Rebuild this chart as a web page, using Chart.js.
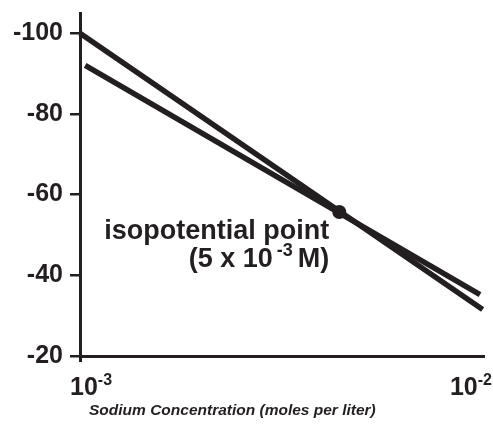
<!DOCTYPE html>
<html>
<head>
<meta charset="utf-8">
<script src="https://cdn.jsdelivr.net/npm/chart.js@4.4.1/dist/chart.umd.min.js"></script>
<style>
  html, body { margin: 0; padding: 0; background: #fff; }
  #wrap { width: 493px; height: 425px; }
</style>
</head>
<body>
<div id="wrap"><canvas id="sodiumChart" width="493" height="425"></canvas></div>
<script>
// values (membrane potential in mV vs Na concentration)
const steepConc = [0.001, 0.00998];
const steepMv = [-100, -31.5];
const shallowConc = [0.00103, 0.00983];
const shallowMv = [-92, -35.2];
const isoConc = [0.0044];
const isoMv = [-55.7];
const yTicks = [-100, -80, -60, -40, -20];
const xTickValues = [0.001, 0.01];
const xTickExponents = ['-3', '-2'];
const isoText = 'isopotential point';
const isoValueText = ['(5 x 10', '-3', 'M)'];
const xTitle = 'Sodium Concentration (moles per liter)';

const INK = '#231f20';
const FONT = '"Liberation Sans", Arial, Helvetica, sans-serif';

function toPoints(xs, ys) {
    return xs.map((x, i) => ({ x: x, y: ys[i] }));
}

// draws "base" with a raised exponent, returns total width
function drawPower(ctx, base, exp, x, y, size, supSize, align) {
    ctx.font = 'bold ' + size + 'px ' + FONT;
    const wBase = ctx.measureText(base).width;
    ctx.font = 'bold ' + supSize + 'px ' + FONT;
    const wExp = ctx.measureText(exp).width;
    const total = wBase + wExp;
    let left = x;
    if (align === 'right') left = x - total;
    ctx.textAlign = 'left';
    ctx.font = 'bold ' + size + 'px ' + FONT;
    ctx.fillText(base, left, y);
    ctx.font = 'bold ' + supSize + 'px ' + FONT;
    ctx.fillText(exp, left + wBase, y - size * 0.42);
    return total;
}

const textPlugin = {
    id: 'textPlugin',
    afterDraw(chart) {
        const ctx = chart.ctx;
        const xs = chart.scales.x;
        ctx.save();
        ctx.fillStyle = INK;
        ctx.textBaseline = 'alphabetic';

        // x tick labels 10^-3 and 10^-2
        xTickValues.forEach((v, i) => {
            const px = xs.getPixelForValue(v);
            if (i === 0) {
                drawPower(ctx, '10', xTickExponents[i], px - 10, 395, 25, 16, 'left');
            } else {
                drawPower(ctx, '10', xTickExponents[i], px + 9, 395, 25, 16, 'right');
            }
        });

        // axis title
        ctx.font = 'italic bold 15.5px ' + FONT;
        ctx.textAlign = 'left';
        ctx.fillText(xTitle, chart.chartArea.left + 9, 415);

        // isopotential annotation, anchored to the point
        const meta = chart.getDatasetMeta(2);
        const pt = meta.data[0];
        const right = pt.x - 10;
        ctx.font = 'bold 27px ' + FONT;
        ctx.textAlign = 'right';
        ctx.fillText(isoText, right, pt.y + 27);

        // second line: (5 x 10^-3 M)
        const supSize = 18;
        ctx.font = 'bold 27px ' + FONT;
        const wTail = ctx.measureText(isoValueText[2]).width;
        const wHead = ctx.measureText(isoValueText[0]).width;
        ctx.font = 'bold ' + supSize + 'px ' + FONT;
        const wSup = ctx.measureText(isoValueText[1]).width;
        const y2 = pt.y + 55;
        const gapA = 4, gapB = 5;
        const x0 = right - wTail - gapB - wSup - gapA - wHead;
        ctx.textAlign = 'left';
        ctx.font = 'bold 27px ' + FONT;
        ctx.fillText(isoValueText[0], x0, y2);
        ctx.font = 'bold ' + supSize + 'px ' + FONT;
        ctx.fillText(isoValueText[1], x0 + wHead + gapA, y2 - 11);
        ctx.font = 'bold 27px ' + FONT;
        ctx.fillText(isoValueText[2], right - wTail, y2);
        ctx.restore();
    }
};

const chart = new Chart(document.getElementById('sodiumChart'), {
    type: 'line',
    data: {
        datasets: [
            {
                data: toPoints(steepConc, steepMv),
                borderColor: INK,
                borderWidth: 5.5,
                pointRadius: 0
            },
            {
                data: toPoints(shallowConc, shallowMv),
                borderColor: INK,
                borderWidth: 5.5,
                pointRadius: 0
            },
            {
                data: toPoints(isoConc, isoMv),
                showLine: false,
                pointRadius: 7,
                pointBackgroundColor: INK,
                pointBorderColor: INK,
                pointBorderWidth: 0
            }
        ]
    },
    options: {
        responsive: false,
        animation: false,
        clip: false,
        layout: { padding: { top: 13, right: 10, left: 0, bottom: 0 } },
        plugins: {
            legend: { display: false },
            tooltip: { enabled: false }
        },
        scales: {
            x: {
                type: 'logarithmic',
                min: 0.001,
                max: 0.01,
                afterBuildTicks: (scale) => {
                    scale.ticks = xTickValues.map(v => ({ value: v }));
                },
                afterFit: (scale) => {
                    scale.height = 69;
                    scale.paddingLeft = 0;
                    scale.paddingRight = 0;
                },
                ticks: { display: false },
                grid: {
                    drawOnChartArea: false,
                    drawTicks: true,
                    tickLength: 6,
                    lineWidth: 3,
                    color: (c) => (c.index === 0 ? INK : 'rgba(0,0,0,0)')
                },
                border: { display: true, color: INK, width: 3 }
            },
            y: {
                type: 'linear',
                reverse: true,
                min: -105,
                max: -20,
                afterBuildTicks: (scale) => {
                    scale.ticks = yTicks.map(v => ({ value: v }));
                },
                afterFit: (scale) => {
                    scale.width = 80;
                    // labels sit inside the canvas anyway, no extra end padding
                    scale.paddingTop = 0;
                    scale.paddingBottom = 0;
                },
                ticks: {
                    color: INK,
                    padding: 7,
                    font: { family: FONT, size: 25, weight: 'bold' }
                },
                grid: {
                    drawOnChartArea: false,
                    drawTicks: true,
                    tickLength: 10,
                    lineWidth: 2.5,
                    color: INK
                },
                border: { display: true, color: INK, width: 3 }
            }
        }
    },
    plugins: [textPlugin]
});
</script>
</body>
</html>
